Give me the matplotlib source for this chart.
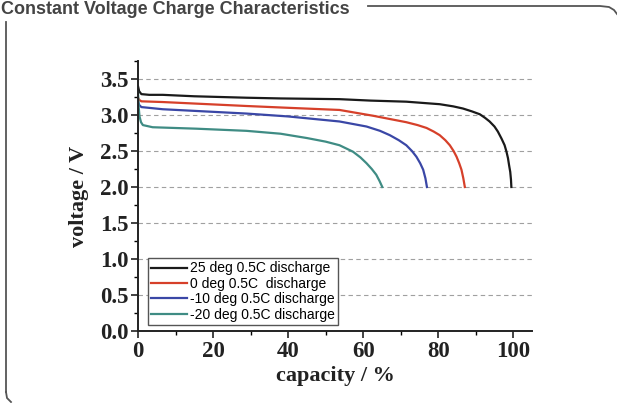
import matplotlib
matplotlib.use("Agg")
import matplotlib.pyplot as plt
from matplotlib.lines import Line2D
from matplotlib.ticker import MultipleLocator

# ── data (capacity %, voltage V) ────────────────────────────────────────────
cap_25 = [0, 0.3, 0.9, 3, 6.6, 15, 28.9, 38, 53.7, 62, 71.5, 80.4, 84, 86.6, 89, 91.1,
          92.5, 93.7, 95, 95.9, 96.9, 97.7, 98.2, 98.6, 98.9, 99.2, 99.4, 99.5]
volt_25 = [3.40, 3.33, 3.29, 3.28, 3.28, 3.26, 3.24, 3.23, 3.22, 3.20, 3.185, 3.15, 3.12, 3.09, 3.05, 3.01,
           2.96, 2.91, 2.84, 2.77, 2.67, 2.58, 2.49, 2.40, 2.30, 2.21, 2.10, 2.00]

cap_0 = [0, 0.3, 0.9, 6.6, 28.9, 40, 53.7, 62.6, 71.5, 74.5, 76.9, 78.8, 80.4, 81.9,
         83.1, 84.1, 84.9, 85.6, 86.2, 86.7, 87.1]
volt_0 = [3.24, 3.21, 3.19, 3.18, 3.125, 3.10, 3.07, 2.99, 2.90, 2.86, 2.82, 2.77, 2.72, 2.65,
          2.58, 2.50, 2.42, 2.33, 2.24, 2.12, 2.00]

cap_m10 = [0, 0.3, 0.9, 6.6, 28.9, 40, 53.7, 60.9, 64.5, 67.1, 69.5, 71.5, 73, 74.2,
           75.2, 76.0, 76.6, 77.0]
volt_m10 = [3.19, 3.14, 3.11, 3.08, 3.02, 2.98, 2.91, 2.84, 2.78, 2.72, 2.65, 2.58, 2.50, 2.42,
            2.33, 2.24, 2.12, 2.00]

cap_m20 = [0, 0.2, 0.4, 0.8, 1.3, 3.9, 15.5, 28.9, 38, 45, 50, 53.7, 57.3, 59.3,
           60.9, 62.3, 63.5, 64.4, 65.1]
volt_m20 = [3.32, 3.10, 2.98, 2.90, 2.86, 2.83, 2.81, 2.78, 2.74, 2.68, 2.63, 2.58, 2.49, 2.41,
            2.33, 2.25, 2.17, 2.08, 2.00]

labels = ["25 deg 0.5C discharge", "0 deg 0.5C  discharge",
          "-10 deg 0.5C discharge", "-20 deg 0.5C discharge"]
colors = ["#1a1a1a", "#d6402a", "#3a47a6", "#3f8c84"]

title = "Constant Voltage Charge Characteristics"
grid_levels = [0.5, 1.0, 1.5, 2.0, 2.5, 3.0, 3.5]

# ── figure ──────────────────────────────────────────────────────────────────
W, H = 617, 403
fig = plt.figure(figsize=(W / 100, H / 100), dpi=100)
ax = fig.add_axes([138 / W, 1 - 331 / H, (532 - 138) / W, (331 - 61) / H])

series = [(cap_25, volt_25), (cap_0, volt_0), (cap_m10, volt_m10), (cap_m20, volt_m20)]
for (x, y), c, lab in zip(series, colors, labels):
    ax.plot(x, y, color=c, lw=1.6, label=lab, solid_joinstyle="round")

for g in grid_levels:
    ax.axhline(g, color="#a0a0a0", lw=0.8, ls=(0, (4, 3)), zorder=0)

ax.set_xlim(0, 105)
ax.set_ylim(0, 3.75)
ax.xaxis.set_major_locator(MultipleLocator(20))
ax.xaxis.set_minor_locator(MultipleLocator(10))
ax.yaxis.set_major_locator(MultipleLocator(0.5))
ax.yaxis.set_minor_locator(MultipleLocator(0.25))
ax.yaxis.set_major_formatter(lambda v, p: f"{v:.1f}")

for s in ["top", "right"]:
    ax.spines[s].set_visible(False)
for s in ["left", "bottom"]:
    ax.spines[s].set_linewidth(1.4)
    ax.spines[s].set_color("#222222")

serif = {"family": "Liberation Serif", "weight": "bold"}
ax.tick_params(which="major", length=5, width=1.2, direction="out", pad=2, colors="#222222")
ax.tick_params(which="minor", length=3, width=1.0, direction="out")
for t in ax.get_xticklabels() + ax.get_yticklabels():
    t.set_fontfamily("Liberation Serif")
    t.set_fontweight("bold")
    t.set_fontsize(16.5)
    t.set_color("#222222")

ax.set_xlabel("capacity / %", fontsize=16, labelpad=3, color="#222222", **serif)
ax.set_ylabel("voltage / V", fontsize=16, labelpad=8, color="#222222", **serif)

leg = ax.legend(loc="lower left", bbox_to_anchor=(0.025, 0.022), borderaxespad=0,
                prop={"family": "Liberation Sans", "size": 10},
                handlelength=2.6, handletextpad=0.15, labelspacing=0.1,
                borderpad=0.25, fancybox=False, framealpha=1)
leg.get_frame().set_edgecolor("#555555")
leg.get_frame().set_linewidth(1.0)

# ── page frame and heading ──────────────────────────────────────────────────
fig.text(1 / W, 1 - 14 / H, title, fontsize=13, fontweight="bold",
         family="Liberation Sans", color="#444444", va="baseline", ha="left")

frame_color = "#555555"
def px(xp, yp):
    return xp / W, 1 - yp / H

xs, ys = zip(*[px(6, 22), px(6, 392)])
fig.add_artist(Line2D(xs, ys, color=frame_color, lw=1.3))
xs, ys = zip(*[px(6, 392), px(7, 398), px(11, 402)])
fig.add_artist(Line2D(xs, ys, color=frame_color, lw=1.3))
xs, ys = zip(*[px(368, 6), px(600, 6), px(609, 7), px(614, 10), px(617, 14)])
fig.add_artist(Line2D(xs, ys, color=frame_color, lw=1.3))

fig.savefig("out.png", dpi=100, facecolor="white")
